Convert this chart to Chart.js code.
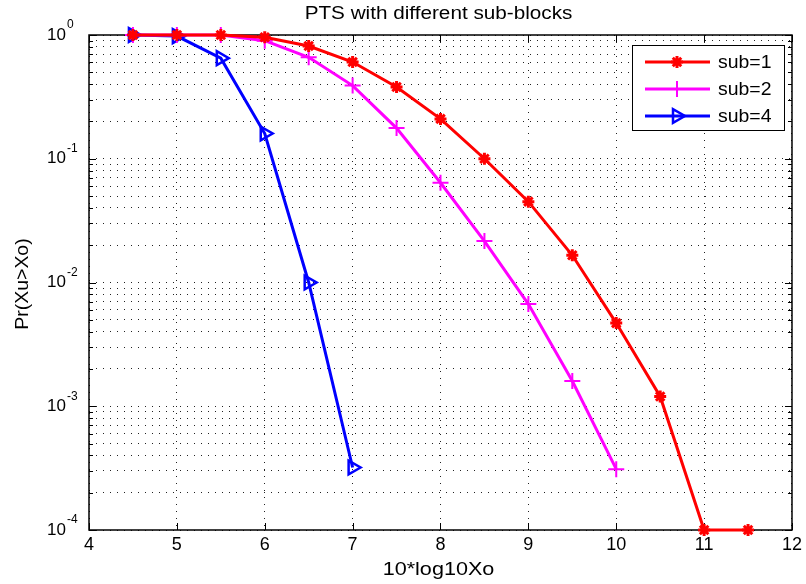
<!DOCTYPE html>
<html>
<head>
<meta charset="utf-8">
<script src="https://cdn.jsdelivr.net/npm/chart.js@4.4.0/dist/chart.umd.min.js"></script>
<style>
  body { margin: 0; background: #fff; }
  canvas { display: block; }
</style>
</head>
<body>
<canvas id="myChart" width="806" height="584"></canvas>
<script>
const xs = [4.5, 5, 5.5, 6, 6.5, 7, 7.5, 8, 8.5, 9, 9.5, 10, 10.5, 11, 11.5];
const sub1 = [1, 1, 1, 0.96, 0.815, 0.605, 0.38, 0.21, 0.1, 0.045, 0.0166, 0.0047, 0.0012, 0.0001, 0.0001];
const sub2 = [1, 1, 1, 0.9, 0.66, 0.39, 0.177, 0.064, 0.0216, 0.0067, 0.0016, 0.00031];
const sub4 = [1, 0.98, 0.65, 0.16, 0.01, 0.00032];
const xTicks = [4, 5, 6, 7, 8, 9, 10, 11, 12];
const yDecades = [-4, -3, -2, -1, 0];
const yMinor = [1, 2, 3, 4, 5, 6, 7, 8, 9];

const FONT = '"Liberation Sans", Arial, sans-serif';

function pts(vals) {
    return vals.map((v, i) => ({ x: xs[i], y: v }));
}

// log ticks 1..9 per decade, no 1.5 step
const yTickValues = [];
yDecades.forEach(e => {
    if (e === 0) { yTickValues.push(1); return; }
    yMinor.forEach(m => yTickValues.push(+(m * Math.pow(10, e)).toPrecision(3)));
});

// matlab text comes out a bit wider than liberation, stretch it
function wideText(ctx, txt, x, y, sx) {
    ctx.save();
    ctx.translate(x, y);
    ctx.scale(sx, 1);
    ctx.fillText(txt, 0, 0);
    ctx.restore();
}

const matlabStuff = {
    id: 'matlabStuff',
    beforeDatasetsDraw(chart) {
        const ctx = chart.ctx;
        const a = chart.chartArea;
        const xs_ = chart.scales.x, ys_ = chart.scales.y;
        ctx.save();
        ctx.strokeStyle = '#000';
        ctx.lineWidth = 1;
        ctx.beginPath();
        // inner ticks
        yTickValues.forEach(v => {
            const y = Math.round(ys_.getPixelForValue(v)) + 0.5;
            const len = Number.isInteger(Math.log10(v)) ? 7 : 4;
            ctx.moveTo(a.left, y); ctx.lineTo(a.left + len, y);
            ctx.moveTo(a.right, y); ctx.lineTo(a.right - len, y);
        });
        xTicks.forEach(v => {
            const x = Math.round(xs_.getPixelForValue(v)) + 0.5;
            ctx.moveTo(x, a.bottom); ctx.lineTo(x, a.bottom - 7);
            ctx.moveTo(x, a.top); ctx.lineTo(x, a.top + 7);
        });
        ctx.stroke();
        ctx.lineWidth = 1.5;
        ctx.strokeRect(a.left, a.top, a.right - a.left, a.bottom - a.top);

        // y tick labels 10^n
        ctx.fillStyle = '#000';
        ctx.textBaseline = 'middle';
        yDecades.forEach(e => {
            const y = ys_.getPixelForValue(Math.pow(10, e));
            ctx.font = '17px ' + FONT;
            ctx.textAlign = 'right';
            ctx.fillText('10', 66, y);
            ctx.font = '12px ' + FONT;
            ctx.textAlign = 'left';
            ctx.fillText(String(e), 67, y - 10);
        });

        ctx.font = '18px ' + FONT;
        ctx.textAlign = 'center';
        const cx = (a.left + a.right) / 2 - 2;
        wideText(ctx, 'PTS with different sub-blocks', cx, 14, 1.15);
        wideText(ctx, '10*log10Xo', cx, 570, 1.2);
        // y title
        ctx.translate(23, 284);
        ctx.rotate(-Math.PI / 2);
        wideText(ctx, 'Pr(Xu>Xo)', 0, 0, 1.08);
        ctx.restore();
    },
    afterDraw(chart) {
        const ctx = chart.ctx;
        ctx.save();
        ctx.fillStyle = '#fff';
        ctx.fillRect(632, 45, 153, 86);
        ctx.strokeStyle = '#000';
        ctx.lineWidth = 1;
        ctx.strokeRect(632.5, 45.5, 152, 85);
        chart.data.datasets.forEach((ds, i) => {
            const y = 62 + i * 27;
            ctx.strokeStyle = ds.borderColor;
            ctx.lineWidth = ds.borderWidth;
            ctx.beginPath();
            ctx.moveTo(645, y); ctx.lineTo(710, y);
            ctx.stroke();
            ctx.fillStyle = ds.pointBackgroundColor;
            ctx.lineWidth = ds.pointBorderWidth;
            Chart.helpers.drawPoint(ctx, {
                pointStyle: ds.pointStyle,
                radius: ds.pointRadius,
                rotation: ds.pointRotation || 0,
                borderWidth: ds.pointBorderWidth
            }, 677, y);
            ctx.fillStyle = '#000';
            ctx.font = '18px ' + FONT;
            ctx.textAlign = 'left';
            ctx.textBaseline = 'middle';
            wideText(ctx, ds.label, 718, y + 1, 1.08);
        });
        ctx.restore();
    }
};

const ctx = document.getElementById('myChart').getContext('2d');
const myChart = new Chart(ctx, {
    type: 'line',
    data: {
        datasets: [
            {
                label: 'sub=1',
                data: pts(sub1),
                borderColor: 'rgb(255,0,0)',
                borderWidth: 3,
                pointStyle: 'star',
                pointRadius: 6,
                pointBorderWidth: 3,
                pointBorderColor: 'rgb(255,0,0)',
                pointBackgroundColor: 'rgb(255,0,0)',
                clip: false
            },
            {
                label: 'sub=2',
                data: pts(sub2),
                borderColor: 'rgb(255,0,255)',
                borderWidth: 3,
                pointStyle: 'cross',
                pointRadius: 8,
                pointBorderWidth: 2,
                pointBorderColor: 'rgb(255,0,255)',
                pointBackgroundColor: 'rgb(255,0,255)',
                clip: false
            },
            {
                label: 'sub=4',
                data: pts(sub4),
                borderColor: 'rgb(0,0,255)',
                borderWidth: 3,
                pointStyle: 'triangle',
                pointRotation: 90,
                pointRadius: 8,
                pointBorderWidth: 2.5,
                pointBorderColor: 'rgb(0,0,255)',
                pointBackgroundColor: 'rgba(0,0,0,0)',
                clip: false
            }
        ]
    },
    options: {
        responsive: false,
        animation: false,
        devicePixelRatio: 1,
        layout: { padding: { left: 0, top: 35, right: 11, bottom: 0 } },
        elements: { line: { tension: 0 } },
        scales: {
            x: {
                type: 'linear',
                min: 4,
                max: 12,
                afterBuildTicks(scale) {
                    scale.ticks = xTicks.map(v => ({ value: v }));
                },
                afterFit(scale) { scale.height = 54; },
                grid: {
                    color: '#222',
                    lineWidth: 1,
                    drawTicks: false
                },
                border: { display: false, dash: [1, 6] },
                ticks: {
                    color: '#000',
                    padding: 4,
                    font: { family: FONT, size: 18 },
                    maxRotation: 0
                }
            },
            y: {
                type: 'logarithmic',
                min: 0.0001,
                max: 1,
                afterBuildTicks(scale) {
                    scale.ticks = yTickValues.map(v => ({ value: v }));
                },
                afterFit(scale) { scale.width = 89; },
                grid: {
                    color: '#222',
                    lineWidth: 1,
                    drawTicks: false
                },
                border: { display: false, dash: [1, 6] },
                ticks: { display: false }
            }
        },
        plugins: {
            legend: { display: false },
            tooltip: { enabled: false }
        }
    },
    plugins: [matlabStuff]
});
</script>
</body>
</html>
